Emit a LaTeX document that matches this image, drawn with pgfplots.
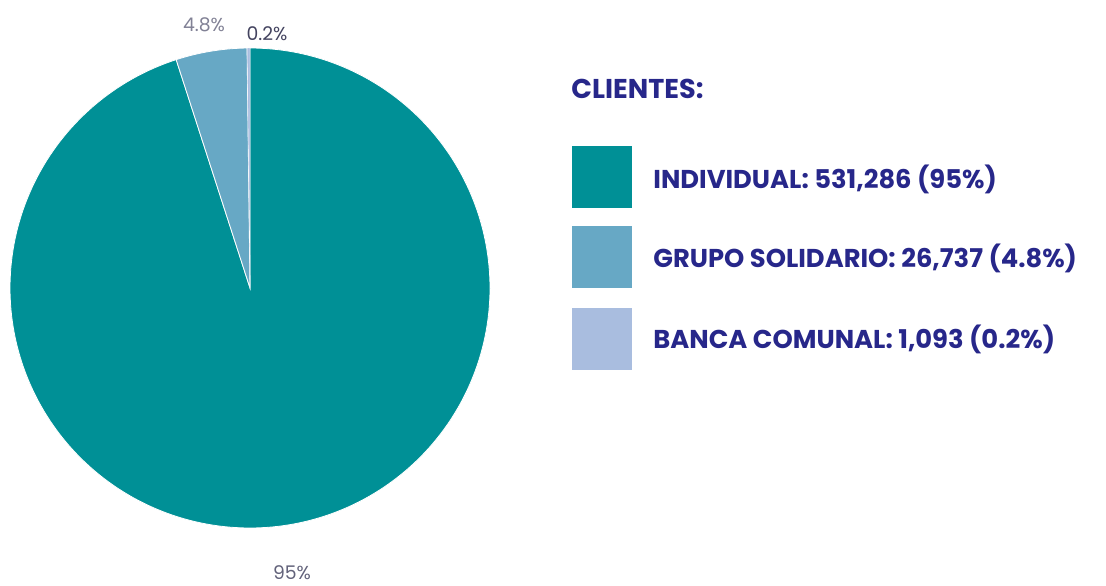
\documentclass[border=0pt]{standalone}
\usepackage{pgfplots}
\pgfplotsset{compat=1.18}
\usepackage{fontspec}
\setmainfont{Poppins}
\definecolor{cInd}{HTML}{009096}
\definecolor{cGru}{HTML}{67A8C5}
\definecolor{cBan}{HTML}{A9BDDF}
\definecolor{cTit}{HTML}{27278A}
\definecolor{cLab}{HTML}{62627A}
% values (clients, in thousands)
\def\vInd{531.286}
\def\vGru{26.737}
\def\vBan{1.093}
\begin{document}
\begin{tikzpicture}
\pgfmathsetmacro\tot{\vInd+\vGru+\vBan}
\pgfmathsetmacro\aA{90-360*(\vInd/\tot)}
\pgfmathsetmacro\aB{\aA-360*(\vGru/\tot)}
\pgfmathsetmacro\aC{\aB-360*(\vBan/\tot)}
\begin{axis}[
  scale only axis, width=553pt, height=292.5pt,
  xmin=0, xmax=1106, ymin=0, ymax=585,
  hide axis, clip=false,
]
\coordinate (SW) at (rel axis cs:0,0);
\coordinate (NE) at (rel axis cs:1,1);
% pie wedges (clockwise from top)
\addplot[fill=cInd, draw=white, line width=0.4pt, domain=\aA:90, samples=240, variable=\t]
  ({250+240*cos(\t)},{297+240*sin(\t)}) -- (250,297) -- cycle;
\addplot[fill=cGru, draw=white, line width=0.4pt, domain=\aB:\aA, samples=40, variable=\t]
  ({250+240*cos(\t)},{297+240*sin(\t)}) -- (250,297) -- cycle;
\addplot[fill=cBan, draw=white, line width=0.2pt, domain=\aC:\aB, samples=5, variable=\t]
  ({250+240*cos(\t)},{297+240*sin(\t)}) -- (250,297) -- cycle;
% slice labels
\node[anchor=base, font=\fontsize{9.4}{11}\selectfont, text=cLab!80] at (204,553) {4.8\%};
\node[anchor=base, font=\fontsize{9.4}{11}\selectfont, text=cLab!120] at (267,544) {0.2\%};
\node[anchor=base, font=\fontsize{9.4}{11}\selectfont, text=cLab] at (292,6) {95\%};
% legend
\node[anchor=base west, inner sep=0pt, font=\fontsize{13.6}{16}\bfseries\selectfont, text=cTit] at (571,487) {CLIENTES:};
\addplot[fill=cInd, draw=none] coordinates {(572,377) (632,377) (632,439) (572,439)} -- cycle;
\addplot[fill=cGru, draw=none] coordinates {(572,297) (632,297) (632,359) (572,359)} -- cycle;
\addplot[fill=cBan, draw=none] coordinates {(572,215) (632,215) (632,277) (572,277)} -- cycle;
\node[anchor=base west, inner sep=0pt, font=\fontsize{12.9}{15}\bfseries\selectfont, text=cTit] at (653,397) {INDIVIDUAL: 531,286 (95\%)};
\node[anchor=base west, inner sep=0pt, font=\fontsize{12.9}{15}\bfseries\selectfont, text=cTit] at (653,318) {GRUPO SOLIDARIO: 26,737 (4.8\%)};
\node[anchor=base west, inner sep=0pt, font=\fontsize{12.9}{15}\bfseries\selectfont, text=cTit] at (653,237) {BANCA COMUNAL: 1,093 (0.2\%)};
\end{axis}
\pgfresetboundingbox
\path[use as bounding box] (SW) rectangle (NE);
\end{tikzpicture}
\end{document}
